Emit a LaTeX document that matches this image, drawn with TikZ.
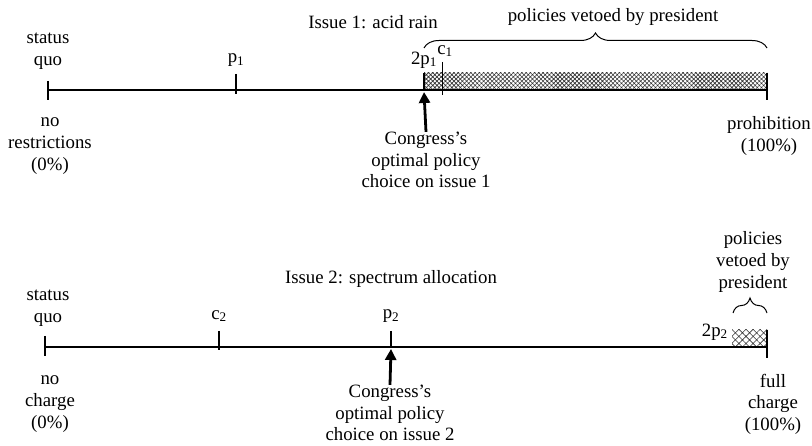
\documentclass[tikz,border=0pt]{standalone}
\usepackage{fontspec}
\setmainfont{Liberation Serif}
\usetikzlibrary{arrows.meta,patterns.meta,decorations.pathreplacing}

\begin{document}
\begin{tikzpicture}[
	x=1pt, y=-1pt,
	font=\fontsize{18.8}{21.6}\selectfont,
	lbl/.style={align=center, inner sep=0pt},
	axis/.style={line width=2.8pt},
	tk/.style={line width=2.8pt},
	thintk/.style={line width=1pt},
	hatch/.style={pattern={Hatch[angle=45,distance=#1,line width=0.6pt]}, pattern color=black!80},
	brc/.style={decorate, decoration={brace, amplitude=15pt}, line width=1pt},
	arr/.style={-{Triangle[length=11pt,width=11pt]}, line width=2.8pt}
]
\useasboundingbox (0,0) rectangle (812,446);

% Issue 1: acid rain
\node[lbl] (I1) at (373,22) {Issue 1: acid rain};
\node[lbl] (SQ1) at (48,51) {status\\quo};
\node[lbl] (NR) at (50,146) {no\\restrictions\\(0\%)};
\node[lbl] (PR) at (769,136) {prohibition\\(100\%)};
\node[lbl] (P1) at (236,60) {p\textsubscript{1}};
\node[lbl] (TP1) at (424,60) {2p\textsubscript{1}};
\node[lbl] (C1) at (445,51) {c\textsubscript{1}};
\node[lbl] (CG1) at (426,160) {Congress's\\optimal policy\\choice on issue 1};
\node[lbl] (V1) at (613,17) {policies vetoed by president};

\coordinate (a1) at (48,90);
\coordinate (b1) at (767,90);
\coordinate (t1) at (424,92);

\fill[hatch=3pt] (424,73) rectangle (767,90);
\draw[axis] (a1) -- (b1);
\draw[tk] (48,81) -- (48,100);
\draw[tk] (236,74) -- (236,94);
\draw[tk] (424,73) -- (424,90);
\draw[tk] (767,73) -- (767,100);
\draw[thintk] (442,62) -- (442,95);
\draw[brc] (424,48) -- (767,48);
\draw[arr] (CG1.north) -- (t1);

% Issue 2: spectrum allocation
\node[lbl] (I2) at (391,279) {Issue 2: spectrum allocation};
\node[lbl] (SQ2) at (48,308) {status\\quo};
\node[lbl] (NC) at (50,404) {no\\charge\\(0\%)};
\node[lbl] (FC) at (773,404) {full\\charge\\(100\%)};
\node[lbl] (C2) at (219,316) {c\textsubscript{2}};
\node[lbl] (P2) at (391,316) {p\textsubscript{2}};
\node[lbl, anchor=east] (TP2) at (728,332) {2p\textsubscript{2}};
\node[lbl] (CG2) at (390,413) {Congress's\\optimal policy\\choice on issue 2};
\node[lbl] (V2) at (753,262) {policies\\vetoed by\\president};

\coordinate (a2) at (45,347);
\coordinate (b2) at (767,347);
\coordinate (t2) at (391,349);

\fill[hatch=5pt] (732,330) rectangle (767,347);
\draw[axis] (a2) -- (b2);
\draw[tk] (45,336) -- (45,356);
\draw[tk] (219,331) -- (219,350);
\draw[tk] (391,331) -- (391,347);
\draw[tk] (767,330) -- (767,358);
\draw[brc] (733,313) -- (767,313);
\draw[arr] (CG2.north) -- (t2);
\end{tikzpicture}
\end{document}
